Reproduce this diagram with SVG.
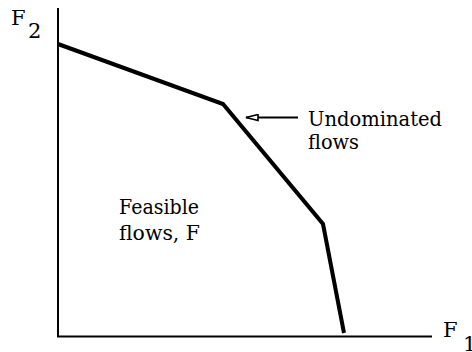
<svg xmlns="http://www.w3.org/2000/svg" width="472" height="352" viewBox="0 0 472 352">
<style>
text{font-family:'DejaVu Serif','Liberation Serif','Times New Roman',serif;font-size:21px;fill:#000}
.axis{stroke:#000;stroke-width:2;fill:none}
.front{stroke:#000;stroke-width:4;fill:none;stroke-linejoin:miter}
.ptr{stroke:#000;stroke-width:2;fill:none}
</style>
<defs>
<marker id="open" viewBox="0 0 14 8" refX="13" refY="4" markerWidth="14" markerHeight="8" markerUnits="userSpaceOnUse" orient="auto">
<path d="M1,1 L13,4 L1,7 Z" fill="#fff" stroke="#000" stroke-width="1.6"/>
</marker>
</defs>
<g id="axes">
<path class="axis" d="M58,8 V336.5 H432"/>
<text x="11" y="25">F</text><text x="28" y="38">2</text>
<text x="443" y="337">F</text><text x="463" y="351">1</text>
</g>
<g id="frontier">
<path class="front" d="M58,44 L223,104 L323,224 L344,333"/>
</g>
<g id="connectors">
<path class="ptr" d="M298,117.5 H246" marker-end="url(#open)"/>
</g>
<g id="undominated">
<text x="308" y="126" textLength="134" lengthAdjust="spacingAndGlyphs">Undominated</text>
<text x="308" y="149" textLength="51" lengthAdjust="spacingAndGlyphs">flows</text>
</g>
<g id="feasible">
<text x="119" y="214" textLength="80" lengthAdjust="spacingAndGlyphs">Feasible</text>
<text x="119" y="240" textLength="81" lengthAdjust="spacingAndGlyphs">flows, F</text>
</g>
</svg>
